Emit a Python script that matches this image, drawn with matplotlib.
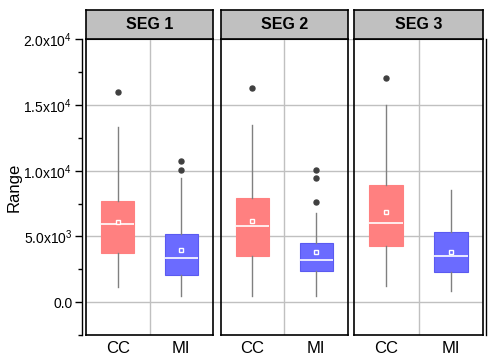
import matplotlib
matplotlib.use('Agg')
import matplotlib.pyplot as plt
from matplotlib.ticker import MultipleLocator, FixedLocator

plt.rcParams['font.family'] = ['Liberation Sans', 'DejaVu Sans']
plt.rcParams['mathtext.fontset'] = 'custom'
plt.rcParams['mathtext.rm'] = 'Liberation Sans'
plt.rcParams['mathtext.it'] = 'Liberation Sans'

# data
segments = ['SEG 1', 'SEG 2', 'SEG 3']
groups = ['CC', 'MI']
q1 = [[3770, 2100], [3540, 2400], [4300, 2330]]
med = [[5930, 3350], [5780, 3190], [6010, 3500]]
q3 = [[7700, 5170], [7930, 4490], [8920, 5350]]
whislo = [[1190, 430], [500, 500], [1260, 880]]
whishi = [[13350, 9430], [13460, 6770], [14980, 8520]]
means = [[6130, 4000], [6200, 3800], [6870, 3850]]
fliers = [[[16000], [10770, 10060]],
          [[16320], [10060, 9480, 7630]],
          [[17030], []]]
ytick_vals = [0, 5000, 10000, 15000, 20000]
ytick_labels = ['0.0', r'$5.0\mathrm{x}10^3$', r'$1.0\mathrm{x}10^4$',
                r'$1.5\mathrm{x}10^4$', r'$2.0\mathrm{x}10^4$']
box_colors = ['#ff8080', '#6b6bff']
edge_colors = ['#ff8080', '#5a5af0']

W, H = 500, 363
fig = plt.figure(figsize=(5, 3.63), dpi=100)

def fx(px):
    return px / W

def fy(px):
    return 1 - px / H

top, bot = 39.3, 335
ylim = (-2500, 20000)

# background axes: y axis + horizontal grid lines running across all panels
bg = fig.add_axes([fx(86), fy(bot), fx(483 - 86), fy(top) - fy(bot)])
bg.set_ylim(ylim)
bg.set_xlim(0, 1)
bg.set_xticks([])
bg.yaxis.set_major_locator(FixedLocator(ytick_vals))
bg.set_yticklabels(ytick_labels, fontsize=9.5)
bg.yaxis.set_minor_locator(MultipleLocator(2500))
bg.tick_params(axis='y', which='major', length=5, width=1, direction='out', pad=2)
bg.tick_params(axis='y', which='minor', length=3, width=1, direction='out')
bg.grid(axis='y', color='#c0c0c0', linewidth=1)
bg.spines['top'].set_visible(False)
bg.spines['bottom'].set_visible(False)
bg.spines['left'].set_position(('outward', 2.9))
bg.spines['right'].set_position(('outward', 2.2))
bg.spines['left'].set_linewidth(1)
bg.spines['right'].set_linewidth(1)
bg.set_ylabel('Range', fontsize=12, labelpad=1)

panels = [(86, 213), (220.5, 348), (354, 483)]

for i, (x0, x1) in enumerate(panels):
    ax = fig.add_axes([fx(x0), fy(bot), fx(x1 - x0), fy(top) - fy(bot)])
    ax.patch.set_alpha(0)
    ax.set_ylim(ylim)
    ax.set_xlim(0.5, 2.5)
    ax.set_yticks([])
    ax.axvline(1.5, color='#c0c0c0', linewidth=1, zorder=0)
    stats = []
    for j, g in enumerate(groups):
        stats.append(dict(label=g, q1=q1[i][j], med=med[i][j], q3=q3[i][j],
                          whislo=whislo[i][j], whishi=whishi[i][j],
                          mean=means[i][j], fliers=fliers[i][j]))
    bp = ax.bxp(stats, positions=[1, 2], widths=0.52, patch_artist=True,
                showmeans=True, showcaps=False, manage_ticks=False,
                medianprops=dict(color='white', linewidth=1.2),
                whiskerprops=dict(color='#808080', linewidth=1),
                flierprops=dict(marker='o', markersize=3.6, markerfacecolor='#404040',
                                markeredgecolor='#404040'),
                meanprops=dict(marker='s', markersize=3.5, markeredgecolor='white',
                               markeredgewidth=1))
    for j, b in enumerate(bp['boxes']):
        b.set_facecolor(box_colors[j])
        b.set_edgecolor(edge_colors[j])
        b.set_linewidth(0.8)
        bp['means'][j].set_markerfacecolor(box_colors[j])
    ax.set_xticks([1, 2])
    ax.set_xticklabels(groups, fontsize=12)
    ax.tick_params(axis='x', length=0, pad=4)
    for s in ax.spines.values():
        s.set_linewidth(1.2)

    # strip header
    st = fig.add_axes([fx(x0), fy(top), fx(x1 - x0), fy(10) - fy(top)])
    st.set_facecolor('#c0c0c0')
    st.set_xticks([])
    st.set_yticks([])
    for s in st.spines.values():
        s.set_linewidth(1.2)
    st.text(0.5, 0.5, segments[i], ha='center', va='center', fontsize=11.5,
            fontweight='bold', transform=st.transAxes)

fig.savefig('out.png', dpi=100)
